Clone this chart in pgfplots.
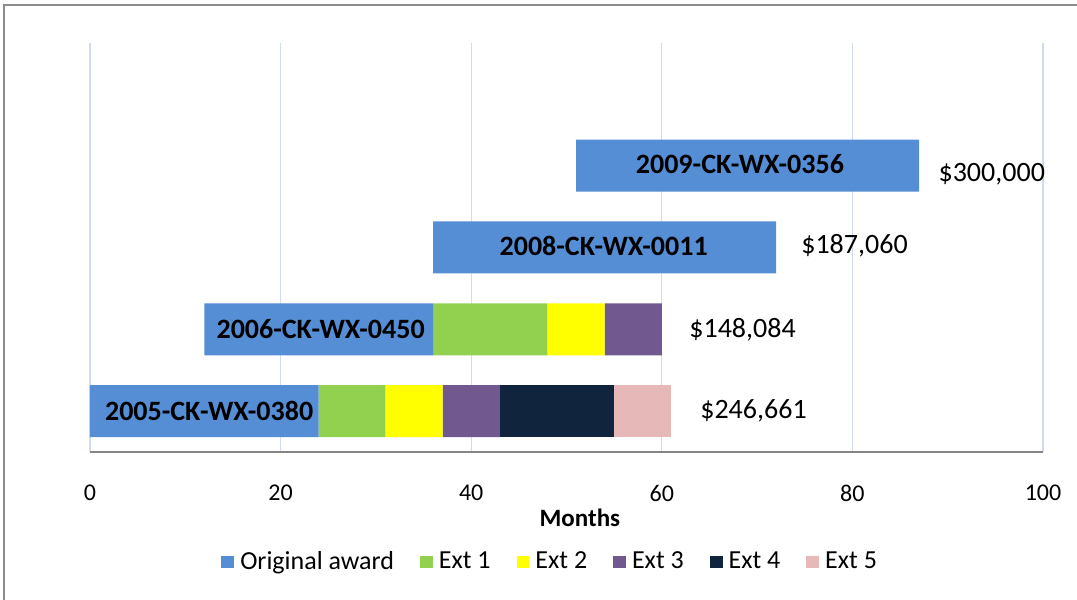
\documentclass[border=0pt]{standalone}
\usepackage{pgfplots}
\pgfplotsset{compat=1.18}
\usepackage{fontspec}
\setmainfont{Carlito}
\definecolor{orig}{HTML}{558ED5}
\definecolor{ext1}{HTML}{92D050}
\definecolor{ext2}{HTML}{FFFF00}
\definecolor{ext3}{HTML}{71588F}
\definecolor{ext4}{HTML}{10243E}
\definecolor{ext5}{HTML}{E6B9B8}
\definecolor{gridc}{HTML}{D0DCEE}
\definecolor{axisc}{HTML}{868686}

\begin{document}
\begin{tikzpicture}
\useasboundingbox (0,0) rectangle (538.5pt,300pt);
\draw[line width=1pt, color=black!45] (2pt,0) |- (540pt,297.5pt);
\begin{axis}[at={(45pt,74pt)}, anchor=south west,
  scale only axis, width=476.5pt, height=204.5pt,
  xbar stacked, bar width=26pt,
  xmin=0, xmax=100, ymin=-0.5, ymax=4.5,
  xtick={0,20,...,100}, ytick=\empty,
  axis x line*=bottom, axis y line=none,
  x axis line style={-, color=axisc, line width=1pt},
  major tick length=0pt,
  xmajorgrids, grid style={gridc, line width=0.6pt},
  /pgf/number format/assume math mode=true,
  xticklabel style={font=\fontsize{12}{14}\selectfont, yshift=-13pt},
  legend style={at={(0.484,0)}, anchor=center, yshift=-55pt, draw=none,
    font=\fontsize{13}{15}\selectfont, legend columns=-1,
    /tikz/every odd column/.append style={column sep=1pt},
    /tikz/every even column/.append style={column sep=11pt}},
  legend image code/.code={\fill[#1] (0pt,-3.2pt) rectangle (6.4pt,3.2pt);},
  clip=false]
% invisible start offset
\addplot[draw=none, fill=none, forget plot] coordinates {(0,0) (12,1) (36,2) (51,3)};
\addplot[fill=orig, draw=none] coordinates {(24,0) (24,1) (36,2) (36,3)};
\addlegendentry{Original award}
\addplot[fill=ext1, draw=none] coordinates {(7,0) (12,1) (0,2) (0,3)};
\addlegendentry{Ext 1}
\addplot[fill=ext2, draw=none] coordinates {(6,0) (6,1) (0,2) (0,3)};
\addlegendentry{Ext 2}
\addplot[fill=ext3, draw=none] coordinates {(6,0) (6,1) (0,2) (0,3)};
\addlegendentry{Ext 3}
\addplot[fill=ext4, draw=none] coordinates {(12,0) (0,1) (0,2) (0,3)};
\addlegendentry{Ext 4}
\addplot[fill=ext5, draw=none] coordinates {(6,0) (0,1) (0,2) (0,3)};
\addlegendentry{Ext 5}
\coordinate (l0) at (axis cs:12.5,0);
\coordinate (l1) at (axis cs:24.2,1);
\coordinate (l2) at (axis cs:53.9,2.02);
\coordinate (l3) at (axis cs:68.2,3.02);
\node[anchor=west, inner sep=0pt, font=\fontsize{14}{16}\selectfont] at (axis cs:64.0,0) {\$246,661};
\node[anchor=west, inner sep=0pt, font=\fontsize{14}{16}\selectfont] at (axis cs:62.85,1) {\$148,084};
\node[anchor=west, inner sep=0pt, font=\fontsize{14}{16}\selectfont] at (axis cs:74.6,2.02) {\$187,060};
\node[anchor=west, inner sep=0pt, font=\fontsize{14}{16}\selectfont] at (axis cs:89.0,2.9) {\$300,000};
\node[font=\fontsize{12.5}{14}\selectfont\bfseries] at (rel axis cs:0.514,0) [yshift=-33pt] {Months};
\end{axis}
\node[font=\fontsize{14}{16}\selectfont\bfseries] at (l0) {2005-CK-WX-0380};
\node[font=\fontsize{14}{16}\selectfont\bfseries] at (l1) {2006-CK-WX-0450};
\node[font=\fontsize{14}{16}\selectfont\bfseries] at (l2) {2008-CK-WX-0011};
\node[font=\fontsize{14}{16}\selectfont\bfseries] at (l3) {2009-CK-WX-0356};
\end{tikzpicture}
\end{document}
